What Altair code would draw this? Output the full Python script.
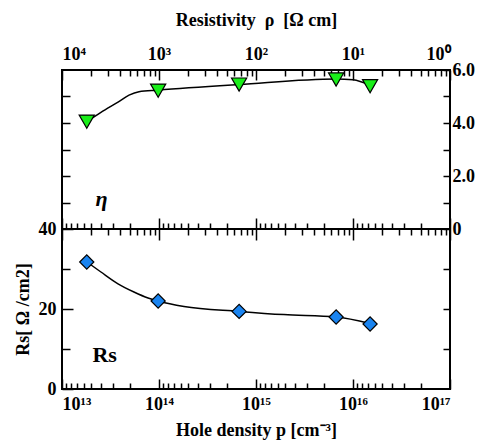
import altair as alt
import pandas as pd

# ---------------- data ----------------
p_points = [1.8e13, 9.8e13, 6.7e14, 6.7e15, 1.5e16]          # hole density [cm-3]
eta_values = [4.05, 5.22, 5.45, 5.64, 5.39]                  # efficiency eta
rs_values = [31.75, 22.0, 19.4, 18.0, 16.25]                 # Rs [Ohm/cm2]

eta_curve_p = [1.81e13, 2.52e13, 3.78e13, 4.91e13, 6.22e13, 9.77e13, 6.7e14, 6.68e15, 1.0e16, 1.5e16]
eta_curve_v = [4.05, 4.40, 4.79, 5.05, 5.18, 5.24, 5.45, 5.66, 5.63, 5.42]

rs_curve_p = [1.81e13, 2.52e13, 3.78e13, 5.52e13, 7.71e13, 9.77e13, 1.81e14, 6.7e14, 1.94e15, 6.7e15, 1.5e16]
rs_curve_v = [31.75, 29.25, 26.3, 24.25, 22.75, 22.0, 20.6, 19.4, 18.6, 18.0, 16.4]

x_decades = [1e13, 1e14, 1e15, 1e16, 1e17]
bottom_labels = ["10¹³", "10¹⁴", "10¹⁵", "10¹⁶", "10¹⁷"]
top_labels = ["10⁴", "10³", "10²", "10¹", "10⁰"]

eta_major = [0, 2, 4, 6]
eta_major_labels = ["0", "2.0", "4.0", "6.0"]
eta_minor = [1, 3, 5]
rs_major = [0, 20, 40]
rs_major_labels = ["0", "20", "40"]
rs_minor = [10, 30]

eta_text = ["η"]
eta_text_p = [2.55e13]
eta_text_v = [1.15]
rs_text = ["Rs"]
rs_text_p = [2.75e13]
rs_text_v = [8.6]

# minor tick positions: standard (k*10^n) on panel tops, mirrored (10^(n+1)/k) on panel bottoms
std_minor = [k * 10.0 ** n for n in range(13, 17) for k in range(2, 10)]
mir_minor = [10.0 ** (n + 1) / k for n in range(13, 17) for k in range(2, 10)]

FONT = "Liberation Serif"
LFS = 18


def lab_expr(labels, index_expr):
    arr = "[" + ",".join("'" + s + "'" for s in labels) + "]"
    return arr + "[" + index_expr + "]"


def ax(orient, values, size, labels=False, **kw):
    base = dict(
        orient=orient, values=values, domain=False, grid=False,
        ticks=True, tickColor="black", tickWidth=1.5,
        tickSize=alt.ExprRef(expr=str(-size)),
        labels=labels, labelFont=FONT, labelFontWeight="bold", labelFontSize=LFS,
        labelColor="black", titleFont=FONT, titleFontWeight="bold",
        titleFontSize=18, titleColor="black", title=None,
    )
    base.update(kw)
    return alt.Axis(**base)


xs = alt.Scale(type="log", domain=[1e13, 1e17], nice=False)
ys_eta = alt.Scale(domain=[0, 6], nice=False, zero=False)
ys_rs = alt.Scale(domain=[0, 40], nice=False, zero=False)

pts = pd.DataFrame({"p": p_points, "eta": eta_values, "rs": rs_values})
eta_curve = pd.DataFrame({"p": eta_curve_p, "v": eta_curve_v})
rs_curve = pd.DataFrame({"p": rs_curve_p, "v": rs_curve_v})


def axis_layer(yfield, ys, xaxis=None, yaxis=None):
    return alt.Chart(pts).mark_point(opacity=0).encode(
        x=alt.X("p:Q", scale=xs, axis=xaxis),
        y=alt.Y(yfield + ":Q", scale=ys, axis=yaxis),
    )


idx_x = "round(log(datum.value)/LN10)-13"

# ---------------- top panel (eta) ----------------
top_layers = [
    axis_layer("eta", ys_eta, xaxis=ax("top", x_decades, 10, labels=True,
                                       labelExpr=lab_expr(top_labels, idx_x),
                                       labelPadding=17,
                                       title="Resistivity\u2002ρ\u2002[Ω cm]", titlePadding=16)),
    axis_layer("eta", ys_eta, xaxis=ax("top", std_minor, 6)),
    axis_layer("eta", ys_eta, xaxis=ax("bottom", x_decades, 11)),
    axis_layer("eta", ys_eta, xaxis=ax("bottom", mir_minor, 6)),
    axis_layer("eta", ys_eta, yaxis=ax("right", eta_major, 7, labels=True,
                                       labelExpr=lab_expr(eta_major_labels, "round(datum.value/2)"),
                                       labelPadding=9)),
    axis_layer("eta", ys_eta, yaxis=ax("right", eta_minor, 7)),
    axis_layer("eta", ys_eta, yaxis=ax("left", eta_minor + [2, 4], 8)),
    alt.Chart(eta_curve).mark_line(color="black", strokeWidth=1.5, interpolate="monotone").encode(
        x=alt.X("p:Q", scale=xs, axis=None), y=alt.Y("v:Q", scale=ys_eta, axis=None)),
    alt.Chart(pts).mark_point(shape="triangle-down", size=230, filled=True, fill="#19ee19",
                              stroke="black", strokeWidth=1.2, opacity=1).encode(
        x=alt.X("p:Q", scale=xs, axis=None), y=alt.Y("eta:Q", scale=ys_eta, axis=None)),
    alt.Chart(pd.DataFrame({"p": eta_text_p, "v": eta_text_v, "t": eta_text})).mark_text(
        font=FONT, fontSize=22, fontStyle="italic", fontWeight="bold", color="black").encode(
        x=alt.X("p:Q", scale=xs, axis=None), y=alt.Y("v:Q", scale=ys_eta, axis=None), text="t:N"),
]
top = alt.layer(*top_layers).resolve_axis(x="independent", y="independent").properties(
    width=388, height=159)

# ---------------- bottom panel (Rs) ----------------
bot_layers = [
    axis_layer("rs", ys_rs, xaxis=ax("bottom", x_decades, 10, labels=True,
                                     labelExpr=lab_expr(bottom_labels, idx_x),
                                     labelPadding=16,
                                     title="Hole density p [cm⁻³]", titlePadding=8)),
    axis_layer("rs", ys_rs, xaxis=ax("bottom", mir_minor, 6)),
    axis_layer("rs", ys_rs, xaxis=ax("top", x_decades, 11)),
    axis_layer("rs", ys_rs, xaxis=ax("top", std_minor, 6)),
    axis_layer("rs", ys_rs, yaxis=ax("left", rs_major, 11, labels=True,
                                     labelExpr=lab_expr(rs_major_labels, "round(datum.value/20)"),
                                     labelPadding=17,
                                     title="Rs[ Ω /cm2]", titlePadding=6)),
    axis_layer("rs", ys_rs, yaxis=ax("left", rs_minor, 8)),
    axis_layer("rs", ys_rs, yaxis=ax("right", rs_minor + [20], 7)),
    alt.Chart(rs_curve).mark_line(color="black", strokeWidth=1.5, interpolate="monotone").encode(
        x=alt.X("p:Q", scale=xs, axis=None), y=alt.Y("v:Q", scale=ys_rs, axis=None)),
    alt.Chart(pts).mark_point(shape="diamond", size=200, filled=True, fill="#1a84f0",
                              stroke="black", strokeWidth=1.2, opacity=1).encode(
        x=alt.X("p:Q", scale=xs, axis=None), y=alt.Y("rs:Q", scale=ys_rs, axis=None)),
    alt.Chart(pd.DataFrame({"p": rs_text_p, "v": rs_text_v, "t": rs_text})).mark_text(
        font=FONT, fontSize=22, fontWeight="bold", color="black").encode(
        x=alt.X("p:Q", scale=xs, axis=None), y=alt.Y("v:Q", scale=ys_rs, axis=None), text="t:N"),
]
bottom = alt.layer(*bot_layers).resolve_axis(x="independent", y="independent").properties(
    width=388, height=160)

chart = alt.vconcat(top, bottom, spacing=0, bounds="flush").resolve_scale(
    x="independent", y="independent").configure_view(
    stroke="black", strokeWidth=2).properties(
    padding={"left": 13, "top": 10, "right": 0, "bottom": 0}, background="white")

chart.save("out.html", embed_options={"renderer": "svg", "actions": False})
